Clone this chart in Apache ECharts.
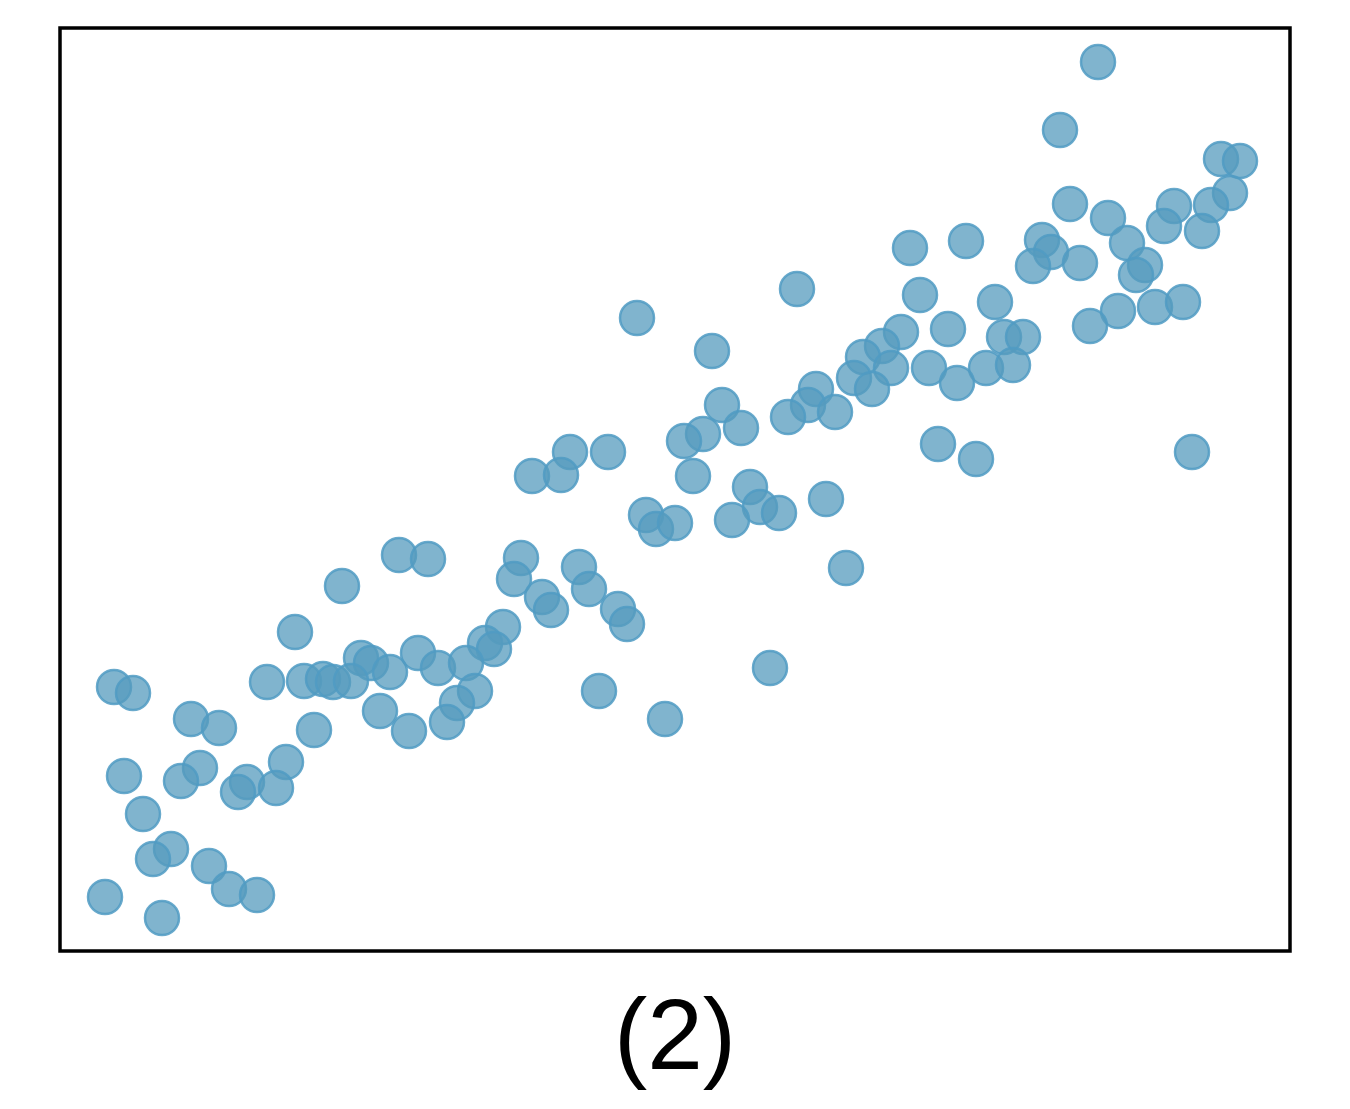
<!DOCTYPE html>
<html>
<head>
<meta charset="utf-8">
<script src="https://cdn.jsdelivr.net/npm/echarts@6/dist/echarts.min.js"></script>
<style>html,body{margin:0;padding:0;background:#fff}#c{width:1350px;height:1109px}</style>
</head>
<body>
<div id="c"></div>
<script>
// point positions (x rightwards, y upwards, arbitrary units)
const xVals = [
  1038,1000,1161,1180,1170,1151,1114,1010,1048,1104,1142,1067,982,991,1020,973,1085,1076,
  850,906,737,860,935,1095,1123,1058,1030,577,888,841,944,963,822,652,803,869,926,953,831,794,897,812,756,748,662,728,775,681,643,624,878,916,1132,
  510,548,472,501,633,690,700,766,719,672,586,596,615,786,
  339,368,461,282,454,519,529,482,491,558,567,443,235,425,434,301,311,358,330,378,406,
  207,244,263,273,291,54,73,415,397,539,710,320,387,349,605,131,159,254,226,140,64,121,187,178,216,83,111,93,149,169,197,45,102
];
const yVals = [
  889,821,792,790,758,746,745,747,733,725,720,708,711,699,688,685,686,676,
  703,710,662,656,649,644,649,640,625,633,622,619,614,614,605,600,594,583,583,586,583,573,568,562,562,546,546,534,539,523,517,510,507,492,499,
  499,499,475,476,475,464,444,452,438,431,436,422,428,383,
  396,392,393,365,372,384,362,354,341,342,327,324,319,308,302,293,288,298,279,283,288,
  269,270,272,269,270,264,258,260,248,260,283,240,229,220,232,232,223,221,189,183,175,170,169,159,163,137,102,92,85,62,56,54,33
];
const points = xVals.map((x, i) => [x, yVals[i]]);

const chart = echarts.init(document.getElementById('c'), null, {renderer: 'canvas'});
chart.setOption({
  animation: false,
  backgroundColor: '#ffffff',
  title: {
    text: '(2)',
    left: 'center',
    top: 986,
    textStyle: {fontFamily: 'Liberation Sans, Arial, sans-serif', fontSize: 100, fontWeight: 'normal', color: '#000'}
  },
  grid: {left: 60, top: 28, width: 1230, height: 923, show: true, borderColor: '#000', borderWidth: 3.5, backgroundColor: 'transparent'},
  xAxis: {type: 'value', min: 0, max: 1230, show: false, splitLine: {show: false}},
  yAxis: {type: 'value', min: 0, max: 923, show: false, splitLine: {show: false}},
  series: [{
    type: 'scatter',
    data: points,
    symbol: 'circle',
    symbolSize: 34,
    itemStyle: {opacity: 1, color: 'rgba(86,155,189,0.75)', borderColor: 'rgba(80,155,195,0.85)', borderWidth: 2.5}
  }]
});
</script>
</body>
</html>
